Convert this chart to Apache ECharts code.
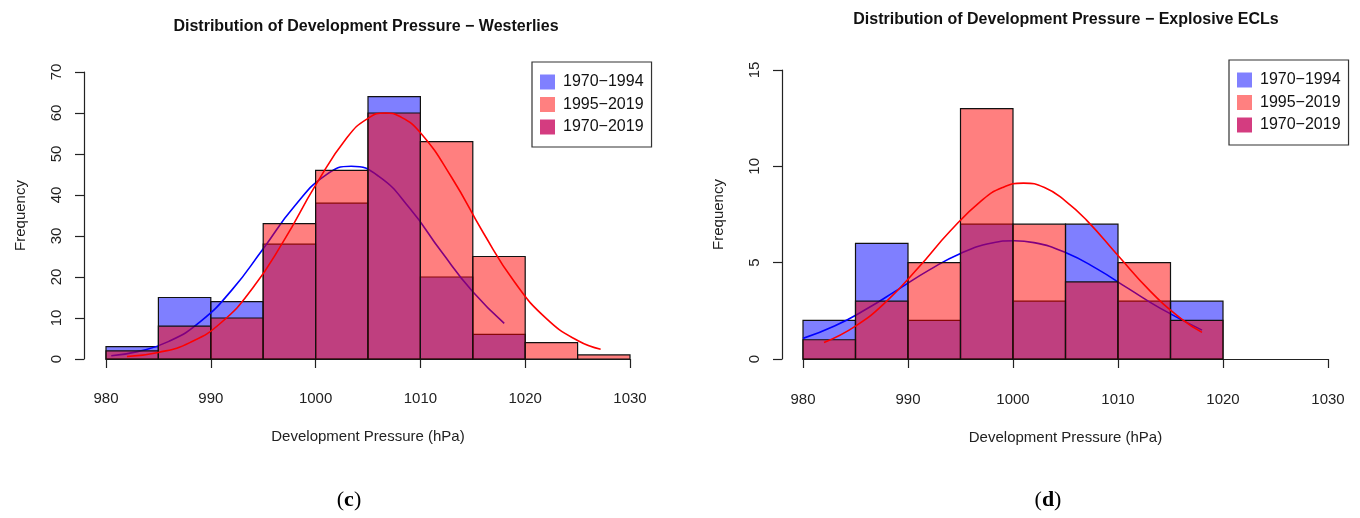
<!DOCTYPE html>
<html>
<head>
<meta charset="utf-8">
<script src="https://cdn.jsdelivr.net/npm/echarts@6/dist/echarts.min.js"></script>
<style>html,body{margin:0;padding:0;background:#fff}#c{width:1360px;height:518px}</style>
</head>
<body>
<div id="c"></div>
<script>
// ---- data ----
const westTitle = 'Distribution of Development Pressure \u2212 Westerlies';
const eclTitle = 'Distribution of Development Pressure \u2212 Explosive ECLs';
const xName = 'Development Pressure (hPa)';
const yName = 'Frequency';
const periods = ['1970\u22121994', '1995\u22122019', '1970\u22122019'];
const binWidthHPa = 5;

const westBins = [980, 985, 990, 995, 1000, 1005, 1010, 1015, 1020, 1025];
const westEarly = [3, 15, 14, 28, 38, 64, 20, 6, 0, 0];
const westLate = [2, 8, 10, 33, 46, 60, 53, 25, 4, 1];

const westEarlyCurveX = [980.5, 983, 986, 989, 992, 995, 998, 1001, 1003.4, 1006, 1009, 1012, 1015, 1018];
const westEarlyCurveY = [0.8, 1.8, 4.3, 9.1, 16.8, 26.9, 37.3, 44.9, 47.0, 44.6, 36.7, 26.2, 16.4, 8.7];
const westLateCurveX = [982, 985, 988, 991, 994, 997, 1000, 1003, 1005, 1006.7, 1008, 1010, 1013, 1016, 1019, 1022, 1025, 1027.2];
const westLateCurveY = [0.6, 1.6, 4.0, 8.9, 17.3, 29.0, 42.4, 54.0, 58.7, 60.0, 59.2, 55.2, 44.2, 30.8, 18.7, 9.9, 4.5, 2.4];

const eclBins = [980, 985, 990, 995, 1000, 1005, 1010, 1015];
const eclEarly = [2, 6, 2, 7, 3, 7, 3, 3];
const eclLate = [1, 3, 5, 13, 7, 4, 5, 2];

const eclEarlyCurveX = [980, 983, 986, 989, 992, 995, 998, 1000.1, 1002, 1005, 1008, 1011, 1014, 1018];
const eclEarlyCurveY = [1.07, 1.71, 2.58, 3.59, 4.61, 5.48, 6.02, 6.14, 6.04, 5.53, 4.68, 3.65, 2.64, 1.5];
const eclLateCurveX = [982, 985, 988, 991, 994, 997, 999, 1001, 1003, 1005, 1007, 1010, 1013, 1016, 1018];
const eclLateCurveY = [0.86, 1.71, 3.02, 4.75, 6.63, 8.22, 8.9, 9.13, 8.9, 8.2, 7.21, 5.37, 3.56, 2.09, 1.38];

const westXTicks = [980, 1030, 10];
const westYTicks = [0, 70, 10];
const eclXTicks = [980, 1030, 10];
const eclYTicks = [0, 15, 5];

// ---- styles ----
const BLUE_FILL = 'rgba(0,0,255,0.5)';
const RED_FILL = 'rgba(255,0,0,0.5)';
const MIX_FILL = '#d43c80';
const FONT = '"Liberation Sans", Arial, Helvetica, sans-serif';

function histData(bins, counts) {
  return bins.map((b, i) => [b, b + binWidthHPa, counts[i]]).filter(d => d[2] > 0);
}
function curveData(xs, ys) { return xs.map((x, i) => [x, ys[i]]); }

function histSeries(name, bins, counts, idx, fill, z) {
  return {
    name: name, type: 'custom', xAxisIndex: idx, yAxisIndex: idx, z: z,
    itemStyle: { color: fill },
    encode: { x: [0, 1], y: 2 },
    data: histData(bins, counts),
    renderItem: function (params, api) {
      const p0 = api.coord([api.value(0), api.value(2)]);
      const p1 = api.coord([api.value(1), 0]);
      return {
        type: 'rect',
        shape: { x: p0[0], y: p0[1], width: p1[0] - p0[0], height: p1[1] - p0[1] },
        style: { fill: fill, stroke: '#111', lineWidth: 1.2 }
      };
    }
  };
}
function lineSeries(name, xs, ys, idx, color, z) {
  return {
    name: name + ' curve', type: 'line', xAxisIndex: idx, yAxisIndex: idx, z: z,
    smooth: 0.5, showSymbol: false, silent: true,
    lineStyle: { color: color, width: 1.6 },
    data: curveData(xs, ys)
  };
}
function dummy(name, idx) {
  return { name: name, type: 'line', xAxisIndex: idx, yAxisIndex: idx, data: [], itemStyle: { color: MIX_FILL } };
}
function xAxis(idx, ticks, offset) {
  return {
    gridIndex: idx, type: 'value', min: ticks[0], max: ticks[1], interval: ticks[2],
    offset: offset, name: xName, nameLocation: 'middle', nameGap: 58,
    nameTextStyle: { fontSize: 15, color: '#222', fontFamily: FONT },
    axisLine: { show: true, lineStyle: { color: '#222', width: 1.2 } },
    axisTick: { show: true, length: 9, lineStyle: { color: '#222', width: 1.2 } },
    axisLabel: { fontSize: 15, color: '#222', margin: 20, fontFamily: FONT, formatter: v => String(v) },
    splitLine: { show: false }
  };
}
function yAxis(idx, ticks, offset) {
  return {
    gridIndex: idx, type: 'value', min: ticks[0], max: ticks[1], interval: ticks[2],
    offset: offset, name: yName, nameLocation: 'middle', nameGap: 56, nameRotate: 90,
    nameTextStyle: { fontSize: 15, color: '#222', fontFamily: FONT },
    axisLine: { show: true, lineStyle: { color: '#222', width: 1.2 } },
    axisTick: { show: true, length: 9, lineStyle: { color: '#222', width: 1.2 } },
    axisLabel: { fontSize: 15, color: '#222', margin: 20, rotate: 90, fontFamily: FONT, formatter: v => String(v) },
    splitLine: { show: false }
  };
}
function legend(idx, left, top) {
  return {
    orient: 'vertical', left: left, top: top,
    icon: 'rect', itemWidth: 15, itemHeight: 15, itemGap: 6.5,
    padding: [12, 8, 12, 8],
    borderColor: '#333', borderWidth: 1.2, borderRadius: 0, backgroundColor: '#fff',
    selectedMode: false,
    textStyle: { fontSize: 16, color: '#111', fontFamily: FONT, padding: [0, 0, 0, 3] },
    data: [
      { name: periods[0], itemStyle: { color: '#8080ff', borderWidth: 0 } },
      { name: periods[1], itemStyle: { color: '#ff8080', borderWidth: 0 } },
      { name: periods[2], itemStyle: { color: MIX_FILL, borderWidth: 0 } }
    ]
  };
}

const chart = echarts.init(document.getElementById('c'), null, { renderer: 'canvas' });
chart.setOption({
  backgroundColor: '#fff',
  animation: false,
  grid: [
    { left: 106, top: 72, width: 524, height: 287 },
    { left: 803, top: 70, width: 525, height: 289 }
  ],
  xAxis: [xAxis(0, westXTicks, 12), xAxis(1, eclXTicks, 13)],
  yAxis: [yAxis(0, westYTicks, 22), yAxis(1, eclYTicks, 21)],
  legend: [legend(0, 532, 62), legend(1, 1229, 60)],
  series: [
    histSeries(periods[0], westBins, westEarly, 0, BLUE_FILL, 2),
    lineSeries(periods[0], westEarlyCurveX, westEarlyCurveY, 0, '#0000ff', 3),
    histSeries(periods[1], westBins, westLate, 0, RED_FILL, 4),
    lineSeries(periods[1], westLateCurveX, westLateCurveY, 0, '#ff0000', 5),
    dummy(periods[2], 0),
    histSeries(periods[0], eclBins, eclEarly, 1, BLUE_FILL, 2),
    lineSeries(periods[0], eclEarlyCurveX, eclEarlyCurveY, 1, '#0000ff', 3),
    histSeries(periods[1], eclBins, eclLate, 1, RED_FILL, 4),
    lineSeries(periods[1], eclLateCurveX, eclLateCurveY, 1, '#ff0000', 5),
    dummy(periods[2], 1)
  ],
  graphic: [
    { type: 'text', x: 366, y: 27, style: { text: westTitle, align: 'center', verticalAlign: 'middle', fontSize: 16, fontWeight: 'bold', fontFamily: FONT, fill: '#111' } },
    { type: 'text', x: 1066, y: 20, style: { text: eclTitle, align: 'center', verticalAlign: 'middle', fontSize: 16, fontWeight: 'bold', fontFamily: FONT, fill: '#111' } },
    { type: 'text', x: 349, y: 500, style: { text: '({b|c})', align: 'center', verticalAlign: 'middle', fontSize: 22, fontFamily: '"Liberation Serif", serif', fill: '#000', rich: { b: { fontSize: 22, fontWeight: 'bold', fontFamily: '"Liberation Serif", serif' } } } },
    { type: 'text', x: 1048, y: 500, style: { text: '({b|d})', align: 'center', verticalAlign: 'middle', fontSize: 22, fontFamily: '"Liberation Serif", serif', fill: '#000', rich: { b: { fontSize: 22, fontWeight: 'bold', fontFamily: '"Liberation Serif", serif' } } } }
  ]
});
</script>
</body>
</html>
